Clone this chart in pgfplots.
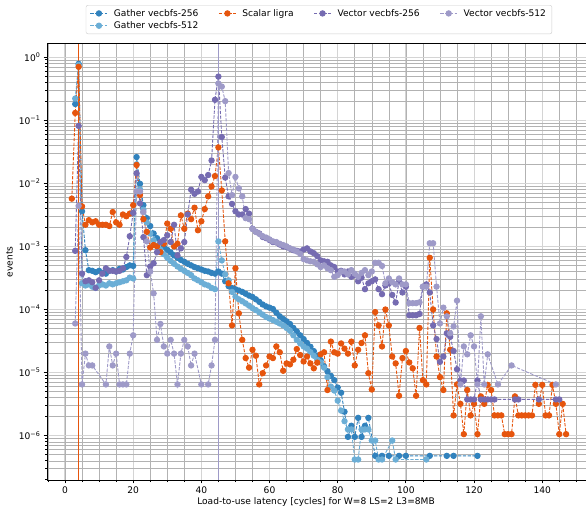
\documentclass[border=0pt]{standalone}
\usepackage{fontspec}
\setmainfont{DejaVu Sans}
\usepackage{pgfplots}
\pgfplotsset{compat=1.18}

\definecolor{gatherA}{HTML}{3182BD}
\definecolor{gatherB}{HTML}{6BAED6}
\definecolor{scalar}{HTML}{E6550D}
\definecolor{vectorA}{HTML}{756BB1}
\definecolor{vectorB}{HTML}{9E9AC8}
\newcommand\lbl{\fontsize{9.1}{10.9}\selectfont}

\pgfplotsset{
  series/.style={color=#1, line width=0.9pt, dash pattern=on 3.3pt off 1.5pt,
    mark=*, mark size=2.7pt, mark options={solid, fill=#1, draw=#1}},
}

\begin{document}
\lbl
\begin{tikzpicture}[x=1pt,y=1pt]
\begin{axis}[
  at={(47.1pt,26pt)}, anchor=south west,
  scale only axis, width=543.7pt, height=436.5pt,
  xmin=-5.25, xmax=154.25,
  ymode=log, ymin=1.99e-7, ymax=1.637,
  xtick={0,20,...,140},
  minor xtick={-5,0,...,150},
  ytick={1e-6,1e-5,1e-4,1e-3,1e-2,1e-1,1},
  yticklabels={10\textsuperscript{−6},10\textsuperscript{−5},10\textsuperscript{−4},10\textsuperscript{−3},10\textsuperscript{−2},10\textsuperscript{−1},10\textsuperscript{0}},
  minor ytick={2e-7,3e-7,4e-7,5e-7,6e-7,7e-7,8e-7,9e-7,
               2e-6,3e-6,4e-6,5e-6,6e-6,7e-6,8e-6,9e-6,
               2e-5,3e-5,4e-5,5e-5,6e-5,7e-5,8e-5,9e-5,
               2e-4,3e-4,4e-4,5e-4,6e-4,7e-4,8e-4,9e-4,
               2e-3,3e-3,4e-3,5e-3,6e-3,7e-3,8e-3,9e-3,
               2e-2,3e-2,4e-2,5e-2,6e-2,7e-2,8e-2,9e-2,
               2e-1,3e-1,4e-1,5e-1,6e-1,7e-1,8e-1,9e-1},
  grid=both,
  major grid style={color=black!17, line width=1.0pt},
  minor grid style={color=black!30, line width=0.5pt},
  tick align=outside, xtick pos=bottom, ytick pos=left,
  major tick length=3.5pt, minor tick length=2pt,
  every tick/.style={black, line width=0.8pt},
  axis line style={black, line width=0.8pt},
  tick label style={font=\lbl},
  /pgf/number format/assume math mode=true,
  xlabel={Load-to-use latency [cycles] for W=8 LS=2 L3=8MB},
  ylabel={events},
  label style={font=\lbl},
  xlabel style={at={(axis description cs:0.4946,0)}, anchor=center, inner sep=0pt, yshift=-21.5pt},
  legend columns=4,
  legend cell align=left,
  legend style={at={(axis description cs:0.5,1.088)}, anchor=north,
    draw=black!20, rounded corners=2pt, fill=white, font=\lbl,
    inner xsep=4pt, inner ysep=2pt,
    /tikz/every odd column/.append style={column sep=4pt},
    /tikz/every even column/.append style={column sep=18pt}},
  legend image code/.code={
    \draw[#1] (0pt,0pt) -- (17pt,0pt);
    \draw[#1, solid] plot coordinates {(8.5pt,0pt)};
  },
]
\addlegendimage{series=gatherA}
\addlegendentry{Gather vecbfs-256}
\addlegendimage{series=scalar}
\addlegendentry{Scalar ligra}
\addlegendimage{series=vectorA}
\addlegendentry{Vector vecbfs-256}
\addlegendimage{series=vectorB}
\addlegendentry{Vector vecbfs-512}
\addlegendimage{series=gatherB}
\addlegendentry{Gather vecbfs-512}

% Gather vecbfs-256
\addplot[series=gatherA, forget plot] coordinates {
(3,0.18)(4,0.78)(5,0.0036)(6,0.00087)(7,0.00042)(8,0.00041)(9,0.00039)(10,0.00041)
(11,0.00038)(12,0.00037)(13,0.00041)(14,0.00042)(15,0.0004)(16,0.00044)(17,0.00043)
(18,0.00047)(19,0.0005)(20,0.00049)(21,0.026)(22,0.0098)(23,0.0045)(24,0.0028)
(25,0.0021)(26,0.0016)(27,0.00135)(28,0.00115)(29,0.00098)(30,0.00088)(31,0.0008)
(32,0.00072)(33,0.00066)(34,0.00061)(35,0.00057)(36,0.00053)(37,0.0005)(38,0.00047)
(39,0.00045)(40,0.00043)(41,0.00041)(42,0.0004)(43,0.00038)(44,0.00037)(45,0.0004)
(46,0.00037)(47,0.00028)(48,2.34e-4)(49,2.19e-4)(50,2.09e-4)(51,2.0e-4)(52,1.9e-4)
(53,1.78e-4)(54,1.66e-4)(55,1.58e-4)(56,1.45e-4)(57,1.32e-4)(58,1.2e-4)(59,1.12e-4)
(60,1.07e-4)(61,1.02e-4)(62,8.9e-5)(63,7.8e-5)(64,7.1e-5)(65,6.5e-5)(66,5.9e-5)
(67,5.1e-5)(68,4.5e-5)(69,3.9e-5)(70,3.4e-5)(71,2.95e-5)(72,2.57e-5)(73,2.19e-5)
(74,1.86e-5)(75,1.58e-5)(76,1.26e-5)(77,1.05e-5)(78,8.9e-6)(79,7.6e-6)(80,5.8e-6)
(81,4.8e-6)(82,2.4e-6)(83,9.6e-7)(84,1.44e-6)(85,9.6e-7)(86,1.92e-6)(87,9.6e-7)
(88,1.44e-6)(89,1.92e-6)(91,4.8e-7)(93,4.8e-7)(95,4.8e-7)(98,4.8e-7)(100,4.8e-7)
(107,4.8e-7)(112,4.8e-7)(114,4.8e-7)(121,4.8e-7)
};

% Gather vecbfs-512
\addplot[series=gatherB, forget plot] coordinates {
(3,0.22)(4,0.75)(5,0.00026)(6,0.00024)(7,0.00025)(8,0.00023)(9,0.00022)(10,0.00024)
(11,0.00025)(12,0.00024)(13,0.00026)(14,0.00025)(15,0.00026)(16,0.00027)(17,0.00028)
(18,0.00029)(19,0.00032)(20,0.00031)(21,0.020)(22,0.0080)(23,0.0038)(24,0.0024)
(25,0.0016)(26,0.00125)(27,0.00102)(28,0.00088)(29,0.00075)(30,0.00066)(31,0.00059)
(32,0.00053)(33,0.00048)(34,0.00044)(35,0.00041)(36,0.00038)(37,0.00035)(38,0.00031)
(39,0.00029)(40,0.00027)(41,0.00025)(42,0.00024)(43,0.00022)(44,0.00021)(45,0.0012)
(46,0.0006)(47,3.6e-4)(48,2.9e-4)(49,1.9e-4)(50,1.6e-4)(51,1.45e-4)(52,1.35e-4)
(53,1.25e-4)(54,1.15e-4)(55,1.05e-4)(56,9.8e-5)(57,9.0e-5)(58,8.3e-5)(59,7.6e-5)
(60,7.2e-5)(61,6.8e-5)(62,6.4e-5)(63,6.0e-5)(64,5.6e-5)(65,5.1e-5)(66,4.6e-5)
(67,3.9e-5)(68,3.3e-5)(69,2.9e-5)(70,2.6e-5)(71,2.4e-5)(72,2.1e-5)(73,1.85e-5)
(74,1.6e-5)(75,1.45e-5)(76,1.2e-5)(77,8.5e-6)(78,6.0e-6)(79,5.2e-6)(80,3.6e-6)
(81,2.5e-6)(82,1.7e-6)(83,1.26e-6)(84,1.26e-6)(85,4.2e-7)(86,4.2e-7)(87,1.26e-6)
(88,1.26e-6)(89,1.26e-6)(90,8.4e-7)(91,8.4e-7)(92,4.2e-7)(93,4.2e-7)(96,8.4e-7)
(97,4.2e-7)(106,4.2e-7)
};

% Scalar ligra
\addplot[series=scalar, forget plot] coordinates {
(2,0.0057)(3,0.13)(4,0.70)(5,0.0043)(6,0.0022)(7,0.0026)(8,0.0024)(9,0.0025)
(10,0.0022)(11,0.0022)(12,0.0022)(13,0.0021)(14,0.0035)(15,0.0024)(16,0.0022)
(17,0.0032)(18,0.0030)(19,0.0033)(20,0.0045)(21,0.0195)(22,0.0065)(23,0.0027)
(24,0.0017)(25,0.00096)(26,0.00105)(27,0.0010)(28,0.00081)(29,0.0011)(30,0.0023)
(31,0.0019)(32,0.0010)(33,0.0011)(34,0.0031)(35,0.0019)(36,0.0033)(37,0.0027)
(38,0.0041)(39,0.0018)(40,0.0025)(41,0.0039)(42,0.0062)(43,0.0089)(44,0.0130)
(45,0.037)(46,0.0077)(47,0.0012)(48,0.00026)(49,5.6e-5)(50,0.00045)(51,8.7e-5)
(52,3.3e-5)(53,1.7e-5)(54,1.2e-5)(55,2.3e-5)(56,1.85e-5)(57,6.5e-6)(58,9.8e-6)
(59,1.3e-5)(60,1.8e-5)(61,1.7e-5)(62,2.6e-5)(63,2.1e-5)(64,1.07e-5)(65,1.4e-5)
(66,1.35e-5)(67,1.6e-5)(68,2.36e-5)(69,1.9e-5)(70,1.5e-5)(71,1.8e-5)(72,1.4e-5)
(73,1.17e-5)(74,1.44e-5)(75,1.95e-5)(76,2.1e-5)(77,5.3e-6)(78,3.1e-5)(79,2.1e-5)
(80,2.0e-5)(81,2.9e-5)(82,2.4e-5)(83,2.0e-5)(84,3.1e-5)(85,1.3e-5)(86,2.3e-5)
(87,2.95e-5)(88,3.9e-5)(89,9.8e-6)(90,5.4e-6)(91,9.1e-5)(92,5.6e-5)(93,2.6e-5)
(94,1.0e-4)(95,5.6e-5)(96,1.8e-5)(97,1.4e-5)(98,4.3e-6)(99,1.7e-5)(100,2.2e-5)
(101,1.45e-5)(102,1.17e-5)(103,4.3e-6)(104,5.1e-5)(105,7.6e-6)(106,6.5e-6)
(107,6.6e-4)(108,1.0e-4)(109,1.8e-5)(110,8.5e-6)(111,5.3e-6)(112,8.7e-5)(113,2.3e-5)
(114,2.1e-6)(115,6.5e-6)(116,3.2e-6)(117,1.06e-6)(118,5.3e-6)(119,2.1e-6)(120,3.2e-6)
(121,1.06e-6)(122,4.2e-6)(123,3.2e-6)(124,6.4e-6)(125,5.3e-6)(126,2.1e-6)(127,2.1e-6)
(128,2.1e-6)(129,1.06e-6)(130,1.06e-6)(131,1.06e-6)(132,4.2e-6)(133,2.1e-6)
(134,2.1e-6)(135,2.1e-6)(136,2.1e-6)(137,2.1e-6)(138,6.4e-6)(139,3.2e-6)(140,6.4e-6)
(141,2.1e-6)(142,2.1e-6)(143,6.4e-6)(144,3.2e-6)(145,1.06e-6)(146,3.2e-6)(147,1.06e-6)
};

% Vector vecbfs-256
\addplot[series=vectorA, forget plot] coordinates {
(3,0.00085)(4,0.081)(5,0.00037)(6,0.00028)(7,0.00029)(8,0.00027)(9,0.00022)
(10,0.00029)(11,0.00037)(12,0.00045)(13,0.00041)(14,0.00041)(15,0.0004)(16,0.00041)
(17,0.00045)(18,0.00068)(19,0.00145)(20,0.0034)(21,0.0144)(22,0.0048)(23,0.0014)
(24,0.00035)(25,0.00048)(26,0.00054)(27,0.00081)(28,0.00117)(29,0.00126)(30,0.0015)
(31,0.00117)(32,0.0022)(33,0.00072)(34,0.00093)(35,0.00117)(36,0.0032)(37,0.0079)
(38,0.0068)(39,0.0074)(40,0.0126)(41,0.0112)(42,0.0135)(43,0.023)(44,0.21)(45,0.49)
(46,0.054)(47,0.0123)(48,0.0062)(49,0.0047)(50,0.0036)(51,0.0032)(52,0.0032)
(53,0.0039)(54,0.0033)(55,0.0019)(56,0.0017)(57,0.0016)(58,0.00141)(59,0.00135)
(60,0.00126)(61,0.00117)(62,0.00115)(63,0.00107)(64,0.0010)(65,0.00098)(66,0.00092)
(67,0.00087)(68,0.00085)(69,0.00083)(70,0.00089)(71,0.00093)(72,0.00083)(73,0.00078)
(74,0.0007)(75,0.0006)(76,0.00058)(77,0.00057)(78,0.0005)(79,0.00047)(80,0.0004)
(81,0.00041)(82,0.00036)(83,0.0004)(84,0.00033)(85,0.00035)(86,0.00028)(87,0.00032)
(88,0.00021)(89,0.00026)(90,0.00028)(91,0.0003)(92,0.00021)(93,0.000175)(94,0.00024)
(95,0.00026)(96,0.00017)(97,0.000129)(98,0.00028)(99,0.000186)(100,0.00023)
(101,8.1e-5)(102,8.1e-5)(103,8.1e-5)(104,8.5e-5)(105,0.00023)(106,0.00025)
(107,0.000186)(108,5.6e-5)(109,3.4e-5)(110,1.48e-5)(111,1.8e-5)(112,4.2e-5)
(113,3.7e-5)(114,2.2e-5)(115,1.13e-5)(116,7.5e-6)(117,7.5e-6)(118,3.76e-6)
(119,3.76e-6)(120,3.76e-6)(121,7.5e-6)(122,3.76e-6)(123,3.76e-6)(124,3.76e-6)
(125,3.76e-6)(126,3.76e-6)(132,3.76e-6)(133,3.76e-6)(139,3.76e-6)(144,3.76e-6)
(145,3.76e-6)
};

% Vector vecbfs-512
\addplot[series=vectorB, forget plot] coordinates {
(3,6.0e-5)(4,0.0044)(5,6.5e-6)(6,2.0e-5)(7,1.3e-5)(8,1.3e-5)(12,6.5e-6)(13,2.6e-5)
(14,1.3e-5)(15,2.0e-5)(16,6.5e-6)(17,6.5e-6)(18,6.5e-6)(19,2.0e-5)(20,3.9e-5)
(21,0.0074)(22,0.0074)(23,0.0035)(24,0.0012)(25,0.0004)(26,0.00018)(27,3.3e-5)
(28,5.9e-5)(29,2.6e-5)(30,2.0e-5)(31,3.3e-5)(32,2.0e-5)(33,6.5e-6)(34,2.0e-5)
(35,3.3e-5)(36,2.6e-5)(37,1.3e-5)(38,2.0e-5)(40,6.5e-6)(42,6.5e-6)(43,1.3e-5)
(44,3.3e-5)(45,0.38)(46,0.34)(47,0.20)(48,0.0145)(49,0.0065)(50,0.0126)(51,0.0083)
(52,0.0062)(53,0.0028)(54,0.0027)(55,0.0019)(56,0.0017)(57,0.00158)(58,0.00145)
(59,0.00138)(60,0.00129)(61,0.0012)(62,0.00117)(63,0.0011)(64,0.00105)(65,0.0010)
(66,0.00093)(67,0.00089)(68,0.00083)(69,0.00076)(70,0.00063)(71,0.0006)(72,0.00058)
(73,0.00057)(74,0.00052)(75,0.00047)(76,0.0005)(77,0.00045)(78,0.00042)(79,0.00033)
(80,0.00035)(81,0.0004)(82,0.0004)(83,0.00036)(84,0.00042)(85,0.00037)(86,0.00033)
(87,0.00038)(88,0.00042)(89,0.00035)(90,0.0004)(91,0.00055)(92,0.00055)(93,0.00049)
(94,0.00026)(95,0.00031)(96,0.00027)(97,0.00025)(98,0.00031)(99,0.00025)(100,0.00025)
(101,0.000126)(102,0.000126)(103,0.000126)(104,0.00013)(105,0.00023)(106,0.00023)
(107,0.00112)(108,0.00112)(109,0.00023)(110,6.0e-5)(111,0.000107)(112,7.8e-5)
(113,4.2e-5)(114,5.4e-5)(115,0.000138)(116,6.5e-6)(117,2.6e-5)(118,1.95e-5)
(119,3.9e-5)(120,2.6e-5)(121,6.5e-6)(122,7.8e-5)(123,6.5e-6)(124,1.95e-5)
(127,6.5e-6)(131,1.3e-5)(144,6.5e-6)
};

% modes of the distributions
\addplot[color=scalar, line width=1.5pt, no marks, forget plot] coordinates {(4,1.99e-7) (4,1.637)};
\addplot[color=vectorB, line width=1.5pt, no marks, forget plot] coordinates {(45,1.99e-7) (45,1.637)};
\end{axis}
\pgfresetboundingbox
\path[use as bounding box] (0,0) rectangle (586,506);
\end{tikzpicture}
\end{document}
